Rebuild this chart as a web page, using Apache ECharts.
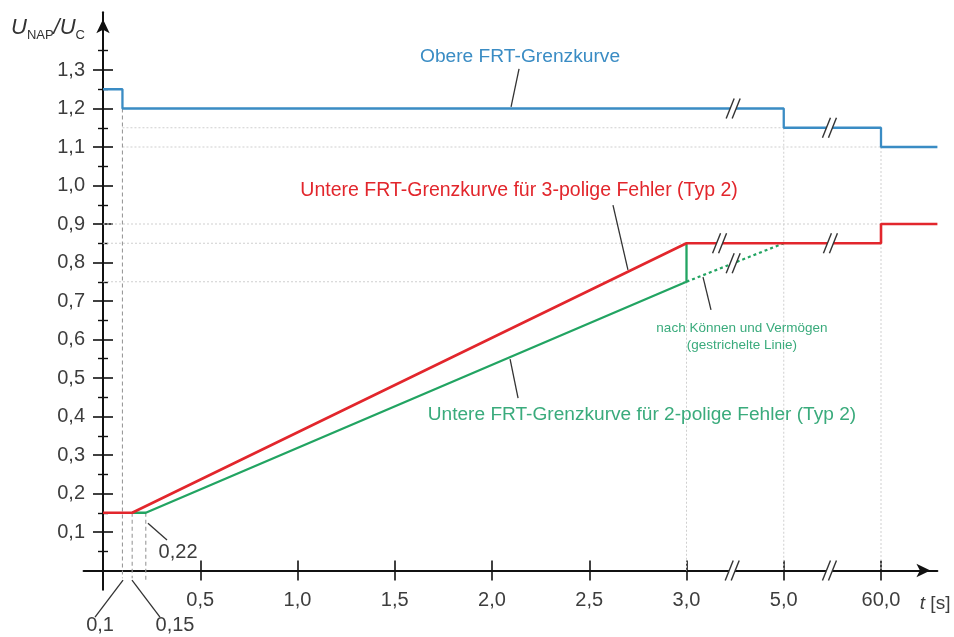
<!DOCTYPE html>
<html>
<head>
<meta charset="utf-8">
<script src="https://cdn.jsdelivr.net/npm/echarts@6/dist/echarts.min.js"></script>
<style>
  html, body { margin: 0; padding: 0; background: #fff; }
  #chart { width: 954px; height: 637px; }
</style>
</head>
<body>
<div id="chart"></div>
<script>
// ---- Data: FRT limit curves, time t in seconds, voltage U_NAP/U_C ----
const T_END = Infinity; // curve runs on to the end of the time axis

const obereT = [0, 0.1, 0.1, 5.0, 5.0, 60.0, 60.0, T_END];
const obereU = [1.25, 1.25, 1.2, 1.2, 1.15, 1.15, 1.1, 1.1];

const untere3T = [0, 0.15, 3.0, 60.0, 60.0, T_END];
const untere3U = [0.15, 0.15, 0.85, 0.85, 0.9, 0.9];

const untere2T = [0.15, 0.22, 3.0, 3.0];
const untere2U = [0.15, 0.15, 0.75, 0.85];

const koennenT = [3.0, 5.0];
const koennenU = [0.75, 0.85];

// Axis ticks and labels
const tTicks = [0.5, 1.0, 1.5, 2.0, 2.5, 3.0, 5.0, 60.0];
const tTickLabels = ['0,5', '1,0', '1,5', '2,0', '2,5', '3,0', '5,0', '60,0'];
const uTicks = [0.1, 0.2, 0.3, 0.4, 0.5, 0.6, 0.7, 0.8, 0.9, 1.0, 1.1, 1.2, 1.3];
const uTickLabels = ['0,1', '0,2', '0,3', '0,4', '0,5', '0,6', '0,7', '0,8', '0,9', '1,0', '1,1', '1,2', '1,3'];
const uMinorTicks = [0.05, 0.15, 0.25, 0.35, 0.45, 0.55, 0.65, 0.75, 0.85, 0.95, 1.05, 1.15, 1.25, 1.35];

// ---- Broken time axis: 0..3 s linear, then one half-unit slot each for 3..5 s and 5..60 s ----
const X_MIN = -0.1, X_MAX = 4.29, Y_MIN = -0.05, Y_MAX = 1.45;
function toSlot(t) {
  if (t === Infinity) return X_MAX;
  if (t <= 3) return t;
  if (t <= 5) return 3 + 0.5 * (t - 3) / 2;
  return 3.5 + 0.5 * (t - 5) / 55;
}
const pairs = (ts, us) => ts.map((t, i) => [toSlot(t), us[i]]);

// Helper lines (t, U pairs)
const guideDotted = [
  [0.1, 1.15, 5.0, 1.15], [0.1, 1.1, 60.0, 1.1], [0, 0.9, 60.0, 0.9],
  [0, 0.85, 3.0, 0.85], [0, 0.75, 3.0, 0.75],
  [3.0, 0.75, 3.0, 0], [5.0, 1.15, 5.0, 0], [60.0, 1.1, 60.0, 0]
];
const guideDashed = [[0.1, 1.2, 0.1, -0.02], [0.15, 0.15, 0.15, -0.02], [0.22, 0.15, 0.22, -0.03]];

// Break symbols "//" (axis units)
const breakMarks = [[3.24, 1.2], [3.735, 1.15], [3.17, 0.85], [3.74, 0.85], [3.24, 0.798], [3.235, 0], [3.735, 0]];

// Annotation texts and their leader lines (axis units)
const BLUE = '#3a8cc4', RED = '#e2262c', GREEN = '#22a462', GREEN_TXT = '#3aab7c', GRAY = '#3d3d3d';
const FONT = 'Liberation Sans';
const notes = [
  { x: 2.144, y: 1.334, text: 'Obere FRT-Grenzkurve', color: BLUE, size: 19.2 },
  { x: 2.139, y: 0.986, text: 'Untere FRT-Grenzkurve für 3-polige Fehler (Typ 2)', color: RED, size: 19.5 },
  { x: 2.771, y: 0.404, text: 'Untere FRT-Grenzkurve für 2-polige Fehler (Typ 2)', color: GREEN_TXT, size: 19.1 },
  { x: 3.285, y: 0.630, text: 'nach Können und Vermögen', color: GREEN_TXT, size: 13.5 },
  { x: 3.285, y: 0.586, text: '(gestrichelte Linie)', color: GREEN_TXT, size: 13.5 },
  { x: 0.386, y: 0.048, text: '0,22', color: GRAY, size: 20 },
  { x: -0.015, y: -0.142, text: '0,1', color: GRAY, size: 20 },
  { x: 0.370, y: -0.142, text: '0,15', color: GRAY, size: 20 }
];
const leaders = [
  [2.139, 1.303, 2.098, 1.204], [2.622, 0.949, 2.699, 0.781], [2.093, 0.549, 2.134, 0.448],
  [3.085, 0.762, 3.126, 0.677], [0.231, 0.123, 0.329, 0.079],
  [0.103, -0.025, -0.041, -0.121], [0.149, -0.025, 0.293, -0.121]
];

// ---- Layout ----
const ORIGIN_X = 103, ORIGIN_Y = 570.5, PX_PER_SLOT = 194.5, PX_PER_U = 385;
const gridLeft = ORIGIN_X + X_MIN * PX_PER_SLOT;
const gridTop = ORIGIN_Y - Y_MAX * PX_PER_U;
const gridBottomPx = ORIGIN_Y - Y_MIN * PX_PER_U;
const AXIS = '#111';

function tickAxis(extra) {
  return Object.assign({
    type: 'value', show: true,
    axisLine: { show: false, onZero: false },
    axisLabel: { show: false }, splitLine: { show: false }
  }, extra);
}

const xRange = { min: X_MIN, max: X_MAX };
const yRange = { min: Y_MIN, max: Y_MAX };

const xAxes = [
  Object.assign({
    type: 'value', position: 'bottom',
    name: '{i|t} [s]', nameLocation: 'end', nameGap: 13,
    nameTextStyle: {
      align: 'right', verticalAlign: 'middle', padding: [66, 0, 0, 0],
      color: GRAY, fontFamily: FONT, fontSize: 19,
      rich: { i: { fontStyle: 'italic', fontFamily: FONT, fontSize: 19, color: GRAY } }
    },
    axisLine: {
      show: true, onZero: true, onZeroAxisIndex: 0,
      symbol: ['none', 'arrow'], symbolSize: [10, 14], symbolOffset: [0, -7],
      lineStyle: { color: AXIS, width: 2 }
    },
    axisTick: { show: false },
    axisLabel: {
      // labels sit against the grid edge, which lies just below the zero line
      customValues: tTicks.map(toSlot), margin: 1, color: GRAY, fontFamily: FONT, fontSize: 20,
      formatter: v => {
        const i = tTicks.findIndex(t => Math.abs(toSlot(t) - v) < 1e-6);
        return i >= 0 ? tTickLabels[i] : '';
      }
    },
    splitLine: { show: false }
  }, xRange),
  tickAxis(Object.assign({
    position: 'bottom', offset: (ORIGIN_Y - 10) - gridBottomPx,
    axisTick: { show: true, inside: false, length: 20, customValues: tTicks.map(toSlot), lineStyle: { color: AXIS, width: 1.6 } }
  }, xRange))
];

const yAxes = [
  Object.assign({
    type: 'value', position: 'left',
    name: '{i|U}{s|NAP}{n|/}{i|U}{s|C}', nameLocation: 'end', nameGap: gridTop - 27.5,
    nameTextStyle: {
      align: 'right', verticalAlign: 'middle', padding: [0, 18, 0, 0],
      rich: {
        i: { fontStyle: 'italic', fontFamily: FONT, fontSize: 22, lineHeight: 22, color: '#333' },
        n: { fontStyle: 'italic', fontFamily: FONT, fontSize: 22, lineHeight: 22, color: '#333' },
        s: { fontFamily: FONT, fontSize: 13, lineHeight: 13, padding: [16, 0, 0, 0], color: '#333' }
      }
    },
    axisLine: {
      show: true, onZero: true, onZeroAxisIndex: 0,
      symbol: ['none', 'arrow'], symbolSize: [10, 14], symbolOffset: [0, -7],
      lineStyle: { color: AXIS, width: 2 }
    },
    axisTick: { show: false },
    axisLabel: {
      // labels sit against the grid edge, left of the zero line
      customValues: uTicks, margin: gridLeft - 85, color: GRAY, fontFamily: FONT, fontSize: 20,
      formatter: v => {
        const i = uTicks.findIndex(u => Math.abs(u - v) < 1e-6);
        return i >= 0 ? uTickLabels[i] : '';
      }
    },
    splitLine: { show: false }
  }, yRange),
  tickAxis(Object.assign({
    position: 'left', offset: gridLeft - (ORIGIN_X + 10),
    axisTick: { show: true, inside: false, length: 20, customValues: uTicks, lineStyle: { color: AXIS, width: 1.6 } }
  }, yRange)),
  tickAxis(Object.assign({
    position: 'left', offset: gridLeft - (ORIGIN_X + 5),
    axisTick: { show: true, inside: false, length: 10, customValues: uMinorTicks, lineStyle: { color: AXIS, width: 1.4 } }
  }, yRange))
];

// Straight segments given as [x1, y1, x2, y2] in axis units
function segmentSeries(rows, style, z) {
  return {
    type: 'custom', silent: true, z: z,
    data: rows,
    renderItem: (params, api) => {
      const a = api.coord([api.value(0), api.value(1)]);
      const b = api.coord([api.value(2), api.value(3)]);
      return { type: 'line', shape: { x1: a[0], y1: a[1], x2: b[0], y2: b[1] }, style: Object.assign({ fill: null }, style) };
    }
  };
}
const toSlotRow = r => [toSlot(r[0]), r[1], toSlot(r[2]), r[3]];

const lineSeries = (name, data, color, width, type, z) => ({
  name: name, type: 'line', data: data, symbol: 'none', silent: true, z: z,
  lineStyle: { color: color, width: width, type: type || 'solid' }
});

const option = {
  backgroundColor: '#fff',
  animation: false,
  grid: {
    left: gridLeft, top: gridTop,
    width: (X_MAX - X_MIN) * PX_PER_SLOT, height: (Y_MAX - Y_MIN) * PX_PER_U,
    containLabel: false, outerBoundsMode: 'none'
  },
  xAxis: xAxes,
  yAxis: yAxes,
  series: [
    segmentSeries(guideDotted.map(toSlotRow), { stroke: '#cfcfcf', lineWidth: 1, lineDash: [2, 2] }, 1),
    segmentSeries(guideDashed.map(toSlotRow), { stroke: '#9a9a9a', lineWidth: 1.1, lineDash: [4, 3] }, 1),
    lineSeries('Obere FRT-Grenzkurve', pairs(obereT, obereU), BLUE, 2.3, 'solid', 3),
    lineSeries('nach Können und Vermögen', pairs(koennenT, koennenU), GREEN, 2.2, [3, 3], 3),
    lineSeries('Untere FRT-Grenzkurve 2-polig', pairs(untere2T, untere2U), GREEN, 2.3, 'solid', 3),
    lineSeries('Untere FRT-Grenzkurve 3-polig', pairs(untere3T, untere3U), RED, 2.6, 'solid', 4),
    segmentSeries(leaders, { stroke: '#333', lineWidth: 1.3 }, 5),
    {
      type: 'custom', silent: true, z: 6,
      data: breakMarks,
      renderItem: (params, api) => {
        const p = api.coord([api.value(0), api.value(1)]);
        const h = 10, lean = 4, half = 3;
        const x1 = p[0] - half, x2 = p[0] + half, yb = p[1] + h, yt = p[1] - h;
        return {
          type: 'group',
          children: [
            { type: 'polygon', shape: { points: [[x1 - lean, yb], [x2 - lean, yb], [x2 + lean, yt], [x1 + lean, yt]] }, style: { fill: '#fff' } },
            { type: 'line', shape: { x1: x1 - lean, y1: yb, x2: x1 + lean, y2: yt }, style: { stroke: '#333', lineWidth: 1.4 } },
            { type: 'line', shape: { x1: x2 - lean, y1: yb, x2: x2 + lean, y2: yt }, style: { stroke: '#333', lineWidth: 1.4 } }
          ]
        };
      }
    },
    {
      type: 'custom', silent: true, z: 7,
      data: notes.map(n => [n.x, n.y]),
      renderItem: (params, api) => {
        const n = notes[params.dataIndex];
        const p = api.coord([api.value(0), api.value(1)]);
        return {
          type: 'text', x: p[0], y: p[1],
          style: { text: n.text, fill: n.color, fontSize: n.size, fontFamily: FONT, align: 'center', verticalAlign: 'middle' }
        };
      }
    }
  ]
};

const chart = echarts.init(document.getElementById('chart'), null, { renderer: 'canvas' });
chart.setOption(option);
</script>
</body>
</html>
